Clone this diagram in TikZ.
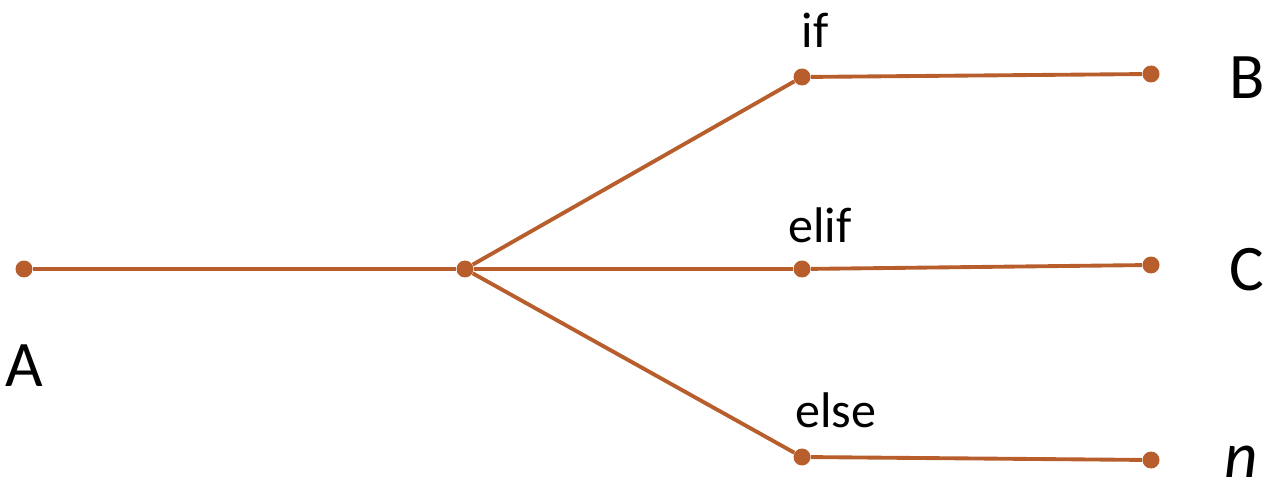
\documentclass[tikz,border=0pt]{standalone}
\usepackage{fontspec}
\setmainfont{Carlito}
\usetikzlibrary{positioning}
\definecolor{br}{RGB}{184,94,44}
\tikzset{dot/.style={circle,fill=br,inner sep=0pt,minimum size=0.34cm},
         wire/.style={br,line width=2.2pt},
         cond/.style={font=\fontsize{28.5}{32}\selectfont,inner sep=0pt},
         ends/.style={font=\fontsize{37}{42}\selectfont,inner sep=0pt}}
\begin{document}
\begin{tikzpicture}[x=0.02cm,y=-0.02cm]
\useasboundingbox(0,0)rectangle(1280,496);
\node[dot](a) at (24,269){};
\node[dot](j) at (465,269){};
\node[dot](m1) at (802,77){};
\node[dot](m2) at (802,269){};
\node[dot](m3) at (802,457){};
\node[dot](r1) at (1151,74){};
\node[dot](r2) at (1151,265){};
\node[dot](r3) at (1151,460){};
\draw[wire](a)--(j);
\foreach \i in {1,2,3} {
\draw[wire](j)--(m\i);
\draw[wire](m\i)--(r\i);}
\node[cond](tif) at (815,30){if};
\node[cond](telif) at (820,225){elif};
\node[cond](telse) at (836,410){else};
\node[ends](tb) at (1247,78){B};
\node[ends](tc) at (1247,270){C};
\node[ends](tn) at (1241,462){\itshape n};
\node[ends](ta) at (24,366){A};
\end{tikzpicture}
\end{document}
